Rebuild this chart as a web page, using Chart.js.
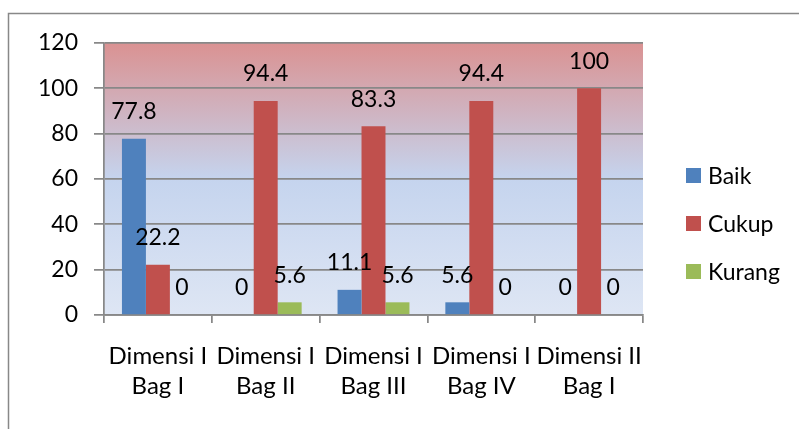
<!DOCTYPE html>
<html>
<head>
<meta charset="utf-8">
<script src="https://cdn.jsdelivr.net/npm/chart.js@4/dist/chart.umd.min.js"></script>
<style>
  html, body { margin: 0; padding: 0; background: #ffffff; }
  canvas { display: block; }
</style>
</head>
<body>
<canvas id="chart" width="799" height="429"></canvas>
<script>
// Kategori dimensi (dua baris per label)
const categories = [
  ["Dimensi I", "Bag I"],
  ["Dimensi I", "Bag II"],
  ["Dimensi I", "Bag III"],
  ["Dimensi I", "Bag IV"],
  ["Dimensi II", "Bag I"]
];

// Persentase tiap kelompok
const baik   = [77.8, 0, 11.1, 5.6, 0];
const cukup  = [22.2, 94.4, 83.3, 94.4, 100];
const kurang = [0, 5.6, 5.6, 0, 0];

const yTicks = [0, 20, 40, 60, 80, 100, 120];

const seriesNames  = ["Baik", "Cukup", "Kurang"];
const seriesColors = ["#4F81BD", "#C0504D", "#9BBB59"];

const FONT = "Lato, 'Open Sans', sans-serif";
const FONT_SIZE = 23;
const GRID = "#888888";

// Latar: bingkai luar dan gradasi area plot
const backgroundPlugin = {
  id: "background",
  beforeDraw(chart) {
    const { ctx, chartArea: a } = chart;
    ctx.save();
    ctx.fillStyle = "#ffffff";
    ctx.fillRect(0, 0, chart.width, chart.height);
    ctx.strokeStyle = "#888888";
    ctx.lineWidth = 1.5;
    ctx.strokeRect(8.5, 13.5, chart.width + 20, chart.height + 20);
    const g = ctx.createLinearGradient(0, a.top, 0, a.bottom);
    g.addColorStop(0, "rgb(218,146,146)");
    g.addColorStop(0.5, "rgb(197,212,238)");
    g.addColorStop(1, "rgb(222,230,244)");
    ctx.fillStyle = g;
    ctx.fillRect(a.left, a.top, a.right - a.left, a.bottom - a.top);
    ctx.restore();
  }
};

// Label nilai di atas setiap batang
const valueLabelPlugin = {
  id: "valueLabels",
  afterDatasetsDraw(chart) {
    const { ctx } = chart;
    ctx.save();
    ctx.font = FONT_SIZE + "px " + FONT;
    ctx.fillStyle = "#000000";
    ctx.textAlign = "center";
    ctx.textBaseline = "middle";
    chart.data.datasets.forEach((ds, di) => {
      const meta = chart.getDatasetMeta(di);
      meta.data.forEach((bar, i) => {
        ctx.fillText(String(ds.data[i]), bar.x, bar.y - 27);
      });
    });
    ctx.restore();
  }
};

// Legenda di sisi kanan
const sideLegendPlugin = {
  id: "sideLegend",
  afterDraw(chart) {
    const { ctx } = chart;
    ctx.save();
    ctx.font = FONT_SIZE + "px " + FONT;
    ctx.textAlign = "left";
    ctx.textBaseline = "middle";
    chart.data.datasets.forEach((ds, i) => {
      const cy = 175.5 + i * 48;
      ctx.fillStyle = ds.backgroundColor;
      ctx.fillRect(686, cy - 7.5, 15, 15);
      ctx.fillStyle = "#000000";
      ctx.fillText(ds.label, 708, cy + 1);
    });
    ctx.restore();
  }
};

const datasets = [baik, cukup, kurang].map((values, i) => ({
  label: seriesNames[i],
  data: values,
  backgroundColor: seriesColors[i],
  borderWidth: 0,
  categoryPercentage: 0.667,
  barPercentage: 1.0
}));

new Chart(document.getElementById("chart"), {
  type: "bar",
  data: { labels: categories, datasets },
  plugins: [backgroundPlugin, valueLabelPlugin, sideLegendPlugin],
  options: {
    responsive: false,
    animation: false,
    devicePixelRatio: 1,
    layout: { padding: { left: 0, right: 156, top: 43, bottom: 0 } },
    plugins: {
      legend: { display: false },
      tooltip: { enabled: false },
      title: { display: false }
    },
    scales: {
      x: {
        offset: true,
        grid: {
          offset: true,
          drawOnChartArea: false,
          drawTicks: true,
          tickLength: 8,
          color: GRID,
          lineWidth: 1.75
        },
        border: { display: true, color: GRID, width: 1.75 },
        ticks: {
          color: "#000000",
          font: { family: FONT, size: 24, lineHeight: 30 / 24 },
          padding: 18,
          maxRotation: 0,
          autoSkip: false
        },
        afterFit(scale) { scale.height = 114; }
      },
      y: {
        min: 0,
        max: 120,
        afterBuildTicks(scale) { scale.ticks = yTicks.map(v => ({ value: v })); },
        grid: {
          color: GRID,
          lineWidth: 1.75,
          drawTicks: true,
          tickLength: 10
        },
        border: { display: true, color: GRID, width: 1.75 },
        ticks: {
          color: "#000000",
          font: { family: FONT, size: FONT_SIZE },
          padding: 16
        },
        afterFit(scale) { scale.width = 104; }
      }
    }
  }
});
</script>
</body>
</html>
